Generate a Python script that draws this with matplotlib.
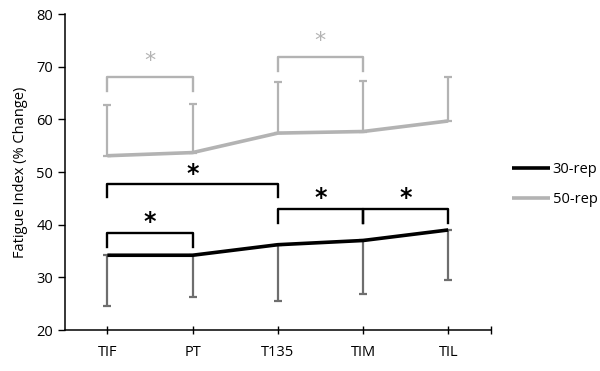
import numpy as np
import matplotlib
matplotlib.use("Agg")
from matplotlib import pyplot as plt

plt.rcParams["font.family"] = ["Open Sans", "DejaVu Sans"]

categories = ["TIF", "PT", "T135", "TIM", "TIL"]
rep30 = [34.2, 34.2, 36.2, 37.0, 39.0]
rep30_low = [24.6, 26.2, 25.5, 26.9, 29.5]
rep50 = [53.1, 53.7, 57.4, 57.7, 59.7]
rep50_high = [62.7, 62.9, 67.1, 67.3, 68.1]

# brackets: (start, end, top, leg bottom left, leg bottom right, star y)
brackets_30 = [(0, 2, 47.7, 45.3, 45.3, 49.6),
               (0, 1, 38.5, 35.8, 35.8, 40.6),
               (2, 3, 42.9, 40.3, 40.3, 45.0),
               (3, 4, 42.9, 40.3, 40.3, 45.0)]
brackets_50 = [(0, 1, 68.0, 65.4, 65.4, 71.0),
               (2, 3, 71.9, 69.2, 69.2, 74.9)]

black = "#000000"
gray = "#b3b3b3"
err_dark = "#6e6e6e"

fig = plt.figure(figsize=(6, 3.71), dpi=100, facecolor="white")
ax = fig.add_axes([0.108, 0.1105, 0.71, 0.8515])

x = np.arange(len(categories))
r30 = np.array(rep30)
r50 = np.array(rep50)

ax.errorbar(x, r30, yerr=[r30 - np.array(rep30_low), np.zeros(5)], fmt="none",
            ecolor=err_dark, elinewidth=1.6, capsize=3, capthick=1.6, zorder=2)
ax.errorbar(x, r50, yerr=[np.zeros(5), np.array(rep50_high) - r50], fmt="none",
            ecolor=gray, elinewidth=1.6, capsize=3, capthick=1.6, zorder=2)
ax.plot(x, r30, color=black, lw=2.6, label="30-rep", zorder=3, solid_capstyle="butt")
ax.plot(x, r50, color=gray, lw=2.6, label="50-rep", zorder=3, solid_capstyle="butt")


def draw_bracket(b, color, star_size, weight):
    x0, x1, top, b0, b1, sy = b
    ax.plot([x0, x0, x1, x1], [b0, top, top, b1], color=color, lw=1.7,
            solid_joinstyle="round", zorder=4)
    ax.text((x0 + x1) / 2, sy, "*", color=color, fontsize=star_size,
            ha="center", va="center", fontweight=weight, family="DejaVu Sans")


for b in brackets_30:
    draw_bracket(b, black, 17, "bold")
for b in brackets_50:
    draw_bracket(b, gray, 16, "normal")

ax.set_xlim(-0.5, 4.5)
ax.set_ylim(20, 80)
ax.set_yticks(np.arange(20, 81, 10))
ax.set_xticks(x)
ax.set_xticklabels(categories)
ax.set_xticks([4.5], minor=True)
ax.tick_params(axis="x", which="both", direction="inout", length=6, width=1,
               labelsize=10.5, pad=8)
ax.tick_params(axis="y", direction="out", length=5, width=1, labelsize=10.5)
ax.set_ylabel("Fatigue Index (% Change)", fontsize=10.5, labelpad=6)

for side in ["top", "right"]:
    ax.spines[side].set_visible(False)
for side in ["left", "bottom"]:
    ax.spines[side].set_linewidth(1.1)

ax.legend(loc="center left", bbox_to_anchor=(1.02, 0.46), frameon=False,
          fontsize=10.5, handlelength=2.6, handletextpad=0.15, labelspacing=1.0)

plt.savefig("out.png", dpi=100)
